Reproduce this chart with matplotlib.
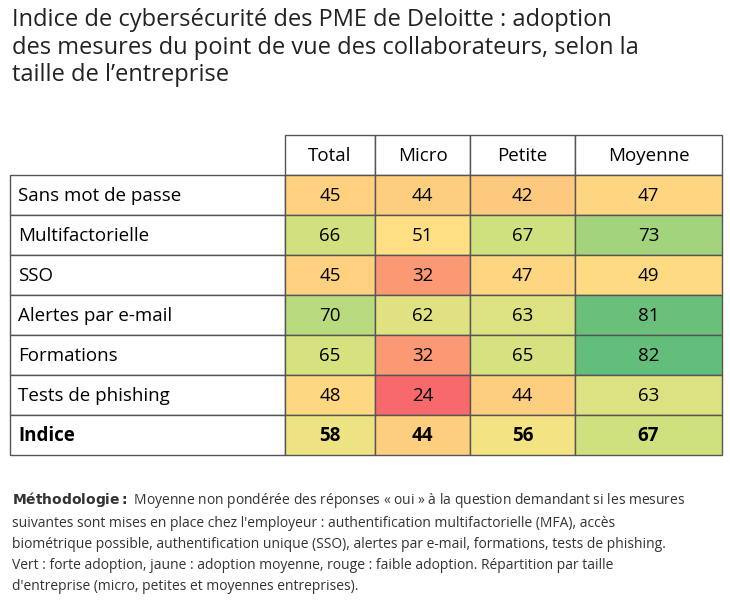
import matplotlib
matplotlib.use("Agg")
import matplotlib.pyplot as plt
from matplotlib.colors import LinearSegmentedColormap, TwoSlopeNorm

plt.rcParams['font.family'] = ['Open Sans', 'DejaVu Sans']

columns = ["Total", "Micro", "Petite", "Moyenne"]
rows = ["Sans mot de passe", "Multifactorielle", "SSO", "Alertes par e-mail",
        "Formations", "Tests de phishing", "Indice"]
total = [45, 66, 45, 70, 65, 48, 58]
micro = [44, 51, 32, 62, 32, 24, 44]
petite = [42, 67, 47, 63, 65, 44, 56]
moyenne = [47, 73, 49, 81, 82, 63, 67]
series = [total, micro, petite, moyenne]

W, H = 730, 613
fig = plt.figure(figsize=(W/100, H/100), dpi=100)
ax = fig.add_axes([0, 0, 1, 1])
ax.set_xlim(0, W); ax.set_ylim(H, 0); ax.axis('off')

cmap = LinearSegmentedColormap.from_list("ryg", ["#f8696b", "#fdc07c", "#ffe484", "#cde07f", "#63be7b"])
norm = TwoSlopeNorm(vmin=24, vcenter=53, vmax=82)

ax.text(12, 8, "Indice de cybersécurité des PME de Deloitte : adoption\ndes mesures du point de vue des collaborateurs, selon la\ntaille de l’entreprise",
        fontsize=17, va='top', ha='left', linespacing=1.2, color='#222222')

xs = [10, 285, 375, 470, 575, 722]
y0, rh = 135, 40
# header
for j, c in enumerate(columns):
    ax.add_patch(plt.Rectangle((xs[j+1], y0), xs[j+2]-xs[j+1], rh, fc='white', ec='#555555', lw=1))
    ax.text((xs[j+1]+xs[j+2])/2, y0+rh/2+1, c, ha='center', va='center', fontsize=13.5)
for i, r in enumerate(rows):
    y = y0 + rh*(i+1)
    bold = 'bold' if r == "Indice" else 'normal'
    ax.add_patch(plt.Rectangle((xs[0], y), xs[1]-xs[0], rh, fc='white', ec='#555555', lw=1))
    ax.text(xs[0]+8, y+rh/2+1, r, ha='left', va='center', fontsize=13.5, fontweight=bold)
    for j, s in enumerate(series):
        v = s[i]
        ax.add_patch(plt.Rectangle((xs[j+1], y), xs[j+2]-xs[j+1], rh, fc=cmap(norm(v)), ec='#555555', lw=1))
        ax.text((xs[j+1]+xs[j+2])/2, y+rh/2+1, str(v), ha='center', va='center', fontsize=13.5, fontweight=bold)

ax.text(12, 490, r"$\bf{Méthodologie :}$" + " Moyenne non pondérée des réponses « oui » à la question demandant si les mesures\nsuivantes sont mises en place chez l'employeur : authentification multifactorielle (MFA), accès\nbiométrique possible, authentification unique (SSO), alertes par e-mail, formations, tests de phishing.\nVert : forte adoption, jaune : adoption moyenne, rouge : faible adoption. Répartition par taille\nd'entreprise (micro, petites et moyennes entreprises).",
        fontsize=10, va='top', ha='left', linespacing=1.55, color='#333333')

fig.savefig("out.png", dpi=100)
